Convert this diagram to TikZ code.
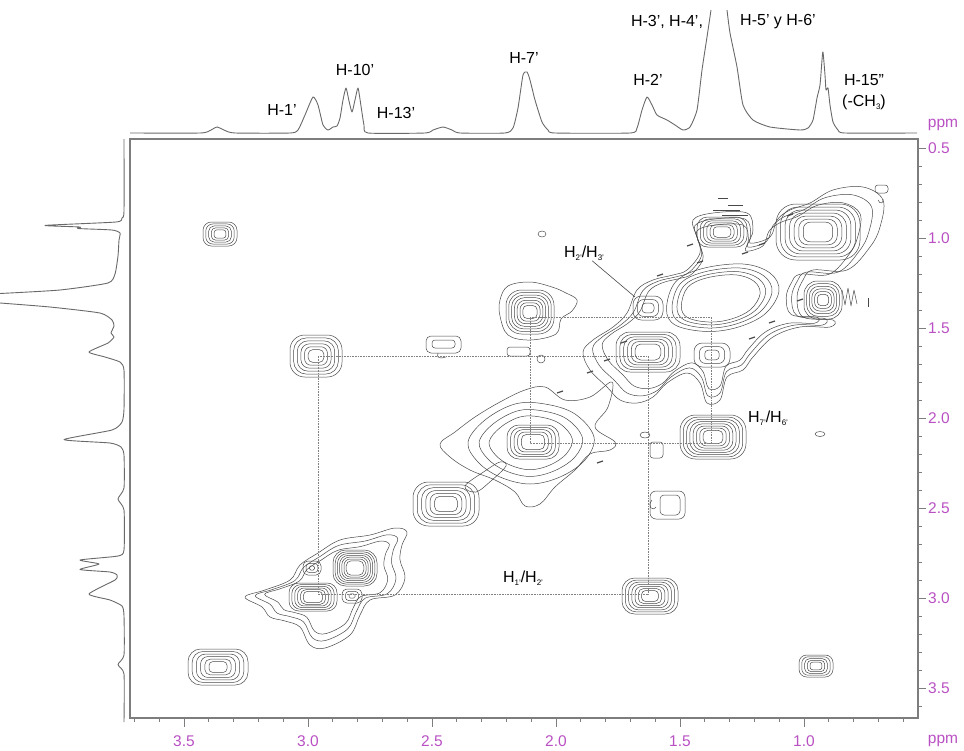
\documentclass[tikz,border=0pt]{standalone}
\usepackage{fontspec}
\setmainfont{Liberation Sans}
\definecolor{axc}{RGB}{185,80,195}
\definecolor{ctline}{RGB}{72,72,72}
\definecolor{specc}{RGB}{105,105,105}
\definecolor{framec}{RGB}{125,125,125}
\tikzset{
 ctr/.style={draw=ctline, line width=0.5pt, line join=round},
 spec/.style={draw=specc, line width=0.9pt, line join=round},
 frame/.style={draw=framec, line width=1.1pt},
 guide/.style={draw=gray, densely dotted, line width=0.6pt},
 lab/.style={font=\fontsize{16}{18}\selectfont, inner sep=0pt},
 axlab/.style={font=\fontsize{15.5}{17}\selectfont, text=axc, inner sep=0pt},
 tickl/.style={draw=framec, line width=0.9pt},
}
\newcommand\pk[6]{%
 \foreach \k in {1,...,#5}{%
   \pgfmathsetmacro\fa{#3*(#6+(1-#6)*(\k-1)/(#5-1))}%
   \pgfmathsetmacro\fb{#4*(#6+(1-#6)*(\k-1)/(#5-1))}%
   \pgfmathsetmacro\rc{0.7*min(\fa,\fb)}%
   \draw[ctr, rounded corners=\rc pt] (#1-\fa,#2-\fb) rectangle (#1+\fa,#2+\fb);
 }}
\newcommand\nest[4]{%
 \foreach \s in {#3}{\draw[ctr, shift={(#1,#2)}, scale=\s] plot[smooth cycle, tension=0.6] coordinates {#4};}}
\newcommand\lowidx[1]{\raisebox{-3.5pt}{\fontsize{8}{8}\selectfont #1}}
\begin{document}
\begin{tikzpicture}[x=1pt,y=-1pt]
\useasboundingbox (0,0) rectangle (964,750);
% frame
\draw[frame] (130,139) rectangle (918,718);
% bottom ticks
\foreach \p in {0.6,0.7,...,3.75} \draw[tickl] ({184+(3.5-\p)*248},718) -- ++(0,4);
\foreach \p [count=\i] in {3.5,3.0,2.5,2.0,1.5,1.0} {
  \draw[tickl] ({184+(3.5-\p)*248},718) -- ++(0,9);
  \node[axlab] (bx\i) at ({184+(3.5-\p)*248},741) {\p};
}
\node[axlab] (bppm) at (943,741) {ppm};
% right ticks
\foreach \p in {0.5,0.6,...,3.65} \draw[tickl] (918,{148+(\p-0.5)*180}) -- ++(4,0);
\foreach \p [count=\i] in {0.5,1.0,1.5,2.0,2.5,3.0,3.5} {
  \draw[tickl] (918,{148+(\p-0.5)*180}) -- ++(8,0);
  \node[axlab, anchor=west] (ry\i) at (928,{148+(\p-0.5)*180}) {\p};
}
\node[axlab] (tppm) at (943,125) {ppm};
% top spectrum
\draw[spec] plot[smooth, tension=0.35] coordinates {(130,133)(200,133)(210,130.5)(217,127)(225,130.5)(235,133)(290,133)(298,130)(305,115)(313,97)(318,105)(323,125)(328,130)(333,127)(337,126)(340,118)(343,100)(346,88)(349,101)(352,112)(355,100)(358,88)(361,106)(364,125)(368,133)(425,133)(433,130)(443,127)(452,130)(460,133)(505,133)(513,128)(518,108)(523,75)(527,72)(530,80)(535,100)(542,122)(548,130)(555,133)(630,133)(637,128)(642,110)(647,97)(652,105)(657,115)(667,120)(675,125)(683,130)(690,127)(697,110)(702,70)(707,37)(711,10)};
\draw[spec] plot[smooth, tension=0.35] coordinates {(727,10)(730,33)(737,67)(743,105)(753,120)(770,127)(800,130)(808,128)(813,120)(817,98)(820,85)(822,60)(823,52)(825,75)(826,90)(828,88)(830,105)(833,122)(838,130)(845,133)(917,133)};
% left spectrum
\draw[spec] plot[smooth, tension=0.35] coordinates {(124,139)(124,211)(122,218)(116,222)(45,225.4)(80,227)(78,228.5)(112,230)(120,233)(119,240)(118,256)(115,274)(108,283)(60,290)(0,293.5)};
\draw[spec] plot[smooth, tension=0.35] coordinates {(0,303)(50,307)(100,313)(112,320)(114,326)(111,333)(114,337)(108,343)(89,352)(105,357)(120,362)(124,370)(124,409)(122,422)(112,430)(64,439.6)(110,443)(121,447)(124,455)(124,488)(118,499)(124,510)(124,550)(118,556)(80,560)(99,564)(80,569.5)(110,572)(117,575)(115,580)(89,594)(110,600)(122,606)(124,616)(124,655)(118,664.6)(124,674)(124,722)};
% ---------- contours ----------
% isolated peaks
\pk{220}{234}{17}{12}{5}{0.35}
\pk{218}{667}{30}{18}{6}{0.3}
\pk{316}{356}{26}{21}{6}{0.3}
\pk{816}{666}{17}{11}{5}{0.35}
\pk{650}{596}{28}{18}{7}{0.3}
\pk{713}{437}{33}{22}{8}{0.3}
% cluster 2.97 / 2.80
\nest{330}{585}{1,0.88,0.77}{(-85,12)(-65,5)(-40,-5)(-30,-20)(-12,-32)(10,-45)(40,-50)(65,-57)(77,-53)(72,-40)(70,-25)(75,-7)(65,10)(40,15)(30,30)(20,50)(-5,63)(-20,60)(-30,42)(-45,36)(-60,32)(-68,22)}
\pk{355}{568}{22}{18}{7}{0.4}
\pk{313}{597}{24}{14}{6}{0.4}
\pk{312}{568}{9}{7}{3}{0.3}
\pk{352}{596}{10}{7}{3}{0.3}
% 2.47 diagonal
\pk{446}{504}{33}{22}{6}{0.35}
\draw[ctr] plot[smooth cycle, tension=0.6] coordinates {(465,486)(485,471)(500,462)(506,466)(492,480)(476,492)};
% 2.12 cluster
\nest{530}{442}{1}{(-90,2)(-75,-10)(-55,-25)(-30,-40)(-5,-52)(15,-55)(35,-42)(60,-45)(82,-60)(78,-35)(65,-15)(85,0)(80,8)(60,12)(45,28)(25,45)(10,62)(-5,64)(-15,50)(-35,38)(-60,28)(-80,15)}
\nest{530}{442}{1,0.82,0.66}{(-62,0)(-45,-22)(-15,-38)(15,-38)(45,-28)(64,-5)(55,18)(30,35)(0,42)(-30,35)(-52,20)}
\pk{533}{442}{26}{17}{5}{0.45}
% cross 2.12/1.38
\draw[ctr] plot[smooth cycle, tension=0.6] coordinates {(500,300)(508,286)(530,282)(552,287)(566,293)(577,300)(572,311)(561,319)(556,334)(530,340)(508,335)(500,316)};
\pk{530}{312}{24}{22}{7}{0.3}
% small shapes
\draw[ctr, rounded corners=5pt] (426,336) rectangle (461,353);
\draw[ctr, rounded corners=3pt] (432,340) rectangle (455,348);
\draw[ctr] (438,353) .. controls (436,358) and (440,359) .. (446,357);
\draw[ctr, rounded corners=6pt] (650,491) rectangle (685,519);
\draw[ctr, rounded corners=4pt] (660,495) rectangle (680,515);
\draw[ctr] (652,500) .. controls (647,506) and (652,512) .. (656,507);
\draw[ctr, rounded corners=3pt] (507,347) rectangle (530,356);
\draw[ctr] (541,359) ellipse [x radius=4, y radius=4];
\draw[ctr] (645,435) ellipse [x radius=5, y radius=3];
\draw[ctr, rounded corners=3pt] (650,442) rectangle (663,458);
\draw[ctr] (542,234) ellipse [x radius=4, y radius=3];
\draw[ctr] (820,434) ellipse [x radius=5, y radius=2.5];
\draw[ctr, rounded corners=3pt] (875,185) rectangle (888,193);
\draw[ctr] (878,200) .. controls (880,205) and (884,203) .. (883,199);
% central band
\nest{720}{300}{1,0.93,0.86}{(-137,52)(-127,40)(-107,27)(-93,13)(-83,-10)(-67,-20)(-47,-25)(-33,-30)(-20,-47)(-23,-63)(-27,-80)(-7,-87)(27,-87)(33,-70)(30,-57)(50,-63)(57,-80)(70,-90)(90,-97)(113,-110)(143,-113)(163,-100)(160,-73)(150,-53)(127,-30)(93,-30)(83,-20)(77,-3)(83,17)(113,20)(110,27)(80,27)(53,37)(33,57)(23,70)(7,77)(0,100)(-13,103)(-20,83)(-33,73)(-53,83)(-67,97)(-83,103)(-100,100)(-113,87)(-130,70)}
\nest{716}{300}{0.9,0.8,0.71,0.63}{(-55,10)(-45,-20)(-15,-35)(30,-40)(60,-30)(70,-10)(55,15)(25,30)(-10,35)(-45,28)}
\pk{648}{352}{32}{20}{6}{0.4}
\pk{648}{308}{15}{12}{3}{0.4}
\pk{712}{355}{18}{12}{3}{0.4}
\pk{722}{232}{25}{15}{6}{0.35}
\pk{818}{232}{42}{28}{7}{0.35}
\pk{823}{300}{19}{19}{6}{0.3}
% dark dashes
\foreach \a/\b in {590/372,607/360,624/342,660/275,700/262,745/253,762/244,790/215,800/300,772/322,752/338,690/245,560/392,600/462}
  \draw[ctr, line width=1.2pt] (\a-3,\b+1) -- (\a+3,\b-1);
\draw[ctr, line width=1pt] (718,198) -- (728,198) (728,205) -- (743,205) (713,210) -- (740,210) (722,215) -- (748,215);
\draw[ctr] (842,290) -- (845,305) -- (848,288) -- (851,306) -- (854,290) -- (857,304);
\draw[ctr] (868,298) -- (868,307);
% ---------- guide lines ----------
\coordinate (a1) at (318,356);
\coordinate (a2) at (648,356);
\coordinate (a3) at (648,594);
\coordinate (a4) at (318,594);
\draw[guide] (a1) -- (a2) -- (a3) -- (a4) -- (a1);
\coordinate (b1) at (530,317);
\coordinate (b2) at (711,317);
\coordinate (b3) at (711,443);
\coordinate (b4) at (530,443);
\draw[guide] (b1) -- (b2) -- (b3) -- (b4) -- (b1);
% ---------- labels ----------
\node[lab] (l1) at (282,110) {H-1'};
\node[lab] (l10) at (355,70) {H-10'};
\node[lab] (l13) at (396,113) {H-13'};
\node[lab] (l7) at (524,58) {H-7'};
\node[lab] (l2) at (648,80) {H-2'};
\node[lab] (l34) at (667,22) {H-3', H-4',};
\node[lab] (l56) at (778,22) {H-5' y H-6'};
\node[lab] (l15) at (864,80) {H-15\char"0022};
\node[lab] (lch) at (864,102) {(-CH\lowidx{3})};
\node[lab] (c23) at (584,253) {H\lowidx{2'}/H\lowidx{3'}};
\node[lab] (c12) at (523,578) {H\lowidx{1'}/H\lowidx{2'}};
\node[lab] (c76) at (768,418) {H\lowidx{7'}/H\lowidx{6'}};
\coordinate (c23e) at (635,297);
\draw[draw=ctline, line width=0.6pt] (c23.south east) ++(-12,0) -- (c23e);
\end{tikzpicture}
\end{document}
